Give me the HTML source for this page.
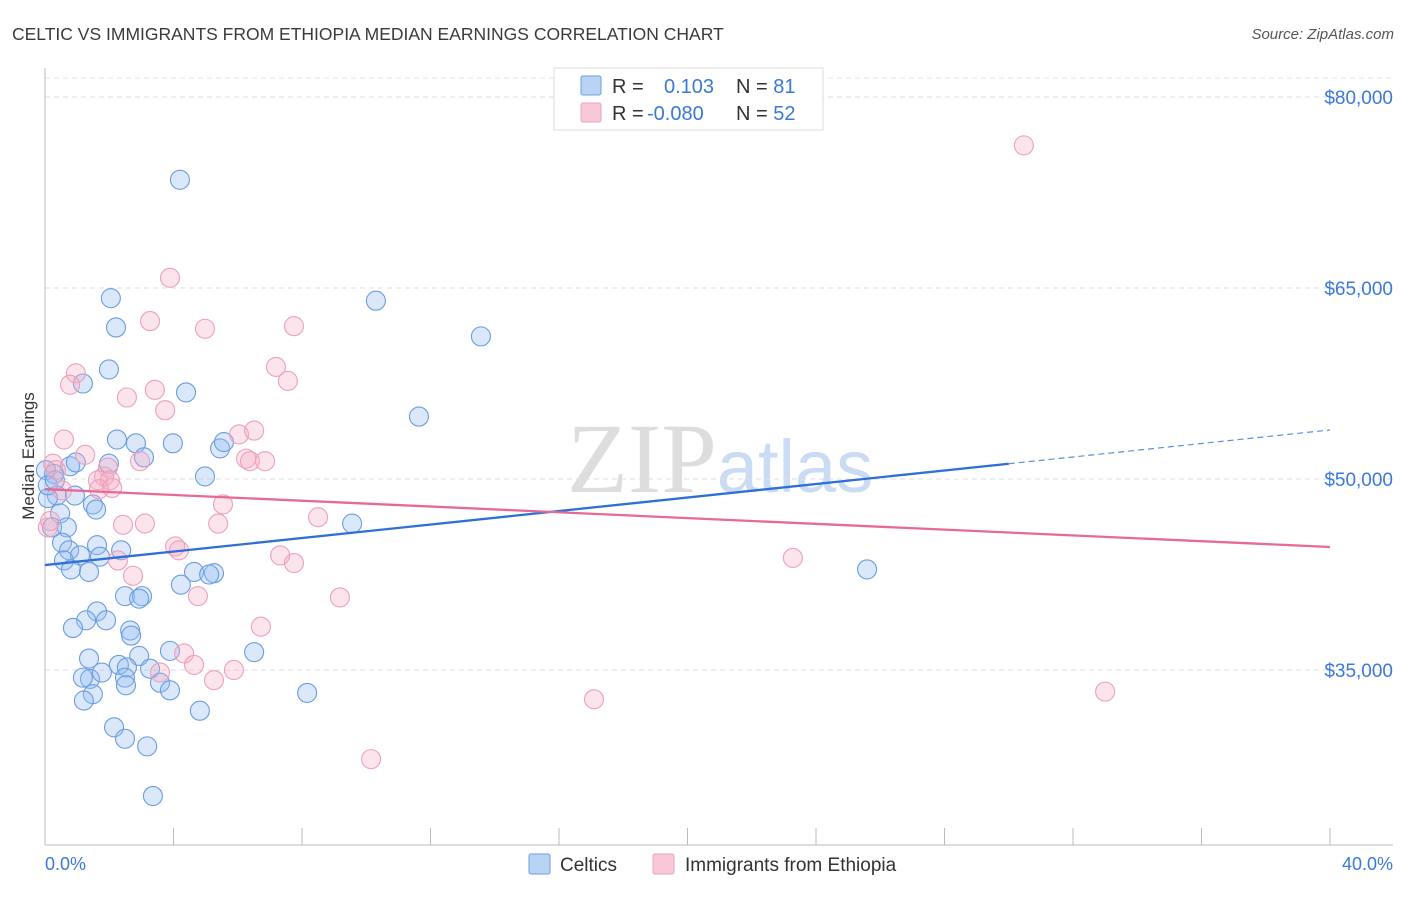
<!DOCTYPE html>
<html><head><meta charset="utf-8"><style>
body{margin:0;background:#fff;font-family:"Liberation Sans",sans-serif;}
</style></head><body>
<svg id="c" width="1406" height="892" xmlns="http://www.w3.org/2000/svg" style="font-family:'Liberation Sans',sans-serif">
<text x="12" y="40" font-size="17.5" fill="#3a3a3a">CELTIC VS IMMIGRANTS FROM ETHIOPIA MEDIAN EARNINGS CORRELATION CHART</text>
<text x="1394" y="39" font-size="15" fill="#555" font-style="italic" text-anchor="end">Source: ZipAtlas.com</text>
<text x="720" y="492" font-size="100" fill="#ddd" text-anchor="middle" font-family="Liberation Serif,serif">ZIP<tspan fill="#c9dcf3" font-family="Liberation Sans,sans-serif" font-size="74">atlas</tspan></text>
<g id="grid"></g>
<g id="marks"></g>
<text transform="translate(34,456) rotate(-90)" font-size="17" fill="#333" text-anchor="middle">Median Earnings</text>
<text x="45" y="870" font-size="18" fill="#3b78d8">0.0%</text>
<text x="1393" y="870" font-size="18" fill="#3b78d8" text-anchor="end">40.0%</text>
<g>
<rect x="554" y="68" width="269" height="62" fill="#fff" stroke="#ddd"/>
<rect x="581" y="76" width="20" height="19" fill="#b9d3f5" stroke="#6d9ee0" rx="2"/>
<rect x="581" y="103" width="20" height="19" fill="#f9c8d8" stroke="#eba3bb" rx="2"/>
<text x="612" y="93" font-size="20" fill="#333">R = <tspan fill="#3b78d8" x="664">0.103</tspan><tspan x="736" fill="#333">N = </tspan><tspan fill="#3b78d8">81</tspan></text>
<text x="612" y="120" font-size="20" fill="#333">R = <tspan fill="#3b78d8" x="647">-0.080</tspan><tspan x="736" fill="#333">N = </tspan><tspan fill="#3b78d8">52</tspan></text>
</g>
<g>
<rect x="529" y="854" width="21" height="20" fill="#b9d3f5" stroke="#6d9ee0" rx="2"/>
<text x="560" y="871" font-size="19" fill="#333">Celtics</text>
<rect x="653" y="854" width="21" height="20" fill="#f9c8d8" stroke="#eba3bb" rx="2"/>
<text x="685" y="871" font-size="19" fill="#333">Immigrants from Ethiopia</text>
</g>
</svg>
<script>
const yTicks=[35000,50000,65000,80000];
const yTickLabels=["$35,000","$50,000","$65,000","$80,000"];
const xTicks=[0,4,8,12,16,20,24,28,32,36,40];
const celticsX=[4.20,2.05,10.30,2.21,13.57,1.99,1.18,4.39,11.64,2.24,2.83,3.98,3.08,5.45,5.57,0.78,1.99,4.98,0.96,0.28,0.37,0.93,0.09,1.49,1.59,0.47,0.22,0.68,9.56,0.53,1.62,0.75,1.09,1.71,0.59,2.37,0.81,1.37,4.64,5.26,4.23,5.11,2.49,3.02,2.93,1.62,1.28,1.90,0.87,2.65,2.68,25.59,6.51,3.89,2.93,1.37,1.40,1.18,1.77,2.30,2.55,2.49,2.52,3.27,3.58,3.89,1.49,1.21,4.82,8.16,2.15,2.49,3.18,3.36,0.03,0.09,0.31];
const celticsY=[73.5,64.2,64.0,61.9,61.2,58.6,57.5,56.8,54.9,53.1,52.8,52.8,51.7,52.4,52.9,51.0,51.2,50.2,51.3,50.4,48.7,48.7,48.5,48.0,47.6,47.3,46.2,46.2,46.5,45.0,44.8,44.4,44.0,43.9,43.6,44.4,42.9,42.7,42.7,42.6,41.7,42.5,40.8,40.8,40.6,39.6,38.9,38.9,38.3,38.1,37.7,42.9,36.4,36.5,36.1,35.9,34.3,34.4,34.8,35.4,35.2,34.4,33.8,35.1,34.0,33.4,33.1,32.6,31.8,33.2,30.5,29.6,29.0,25.1,50.7,49.5,49.9];
const ethX=[30.47,3.89,3.27,4.98,7.75,7.19,7.56,0.96,0.78,3.42,2.55,3.74,0.59,6.04,6.51,6.26,6.38,6.85,1.25,0.25,2.96,1.96,1.84,1.65,2.02,1.68,2.09,5.54,0.09,0.16,2.43,3.11,5.39,8.50,4.05,4.17,2.27,7.32,7.75,2.74,4.76,9.18,6.72,23.28,4.33,4.64,3.58,5.88,5.26,17.09,33.00,10.15,0.34,0.53];
const ethY=[76.2,65.8,62.4,61.8,62.0,58.8,57.7,58.3,57.4,57.0,56.4,55.4,53.1,53.5,53.8,51.6,51.4,51.4,51.9,51.2,51.4,50.9,50.2,49.9,49.9,49.2,49.3,48.0,46.2,46.7,46.4,46.5,46.5,47.0,44.7,44.4,43.6,44.0,43.4,42.4,40.8,40.7,38.4,43.8,36.3,35.4,34.8,35.0,34.2,32.7,33.3,28.0,50.7,49.1];
const celticsTrend=[43.24,53.85];
const ethTrend=[49.2,44.66];
const celticsSolidEnd=30;

const NS="http://www.w3.org/2000/svg";
const X=v=>45+v/40*1285;
const Y=k=>97+(80-k)*12.733;
function mk(t,a,p){const e=document.createElementNS(NS,t);for(const k in a)e.setAttribute(k,a[k]);p.appendChild(e);return e;}
const grid=document.getElementById('grid'),marks=document.getElementById('marks');
let gl=mk('line',{x1:45,x2:1393,y1:78,y2:78,stroke:'#e3e3e3','stroke-dasharray':'5,4'},grid);

yTicks.forEach((t,i)=>{
 const y=Y(t/1000);
 const l=mk('line',{x1:45,x2:1393,y1:y,y2:y,stroke:'#dedede','stroke-dasharray':'5,4'},grid);
 
 
 const tx=mk('text',{x:1393,y:y+7,'font-size':19,fill:'#3b78d8','text-anchor':'end'},grid);
 tx.textContent=yTickLabels[i];
 
 
});
const ax=mk('line',{x1:45,x2:45,y1:68,y2:845,stroke:'#bbb'},grid);

const bx=mk('line',{x1:45,x2:1393,y1:845,y2:845,stroke:'#bbb'},grid);

xTicks.forEach(t=>{
 const tk=mk('line',{x1:X(t),x2:X(t),y1:828,y2:845,stroke:'#bbb'},grid);
 
 
});
function pts(xs,ys,fill,stroke,name){
 xs.forEach((v,i)=>{
  const c=mk('circle',{cx:X(v),cy:Y(ys[i]),r:9.5,fill:fill,stroke:stroke,'stroke-width':1.1},marks);
  
  
 });
}
pts(celticsX,celticsY,'rgba(150,190,240,0.35)','#6a9ce0','celtics-point');
pts(ethX,ethY,'rgba(245,170,195,0.32)','#eba0bb','ethiopia-point');
const ty=(tr,x)=>tr[0]+(tr[1]-tr[0])*x/40;
let l1=mk('line',{x1:X(0),y1:Y(ty(celticsTrend,0)),x2:X(celticsSolidEnd),y2:Y(ty(celticsTrend,celticsSolidEnd)),stroke:'#2f6fd6','stroke-width':2.3},marks);

let l2=mk('line',{x1:X(celticsSolidEnd),y1:Y(ty(celticsTrend,celticsSolidEnd)),x2:X(40),y2:Y(ty(celticsTrend,40)),stroke:'#5a90dc','stroke-width':1.2,'stroke-dasharray':'6,4'},marks);

let l3=mk('line',{x1:X(0),y1:Y(ty(ethTrend,0)),x2:X(40),y2:Y(ty(ethTrend,40)),stroke:'#e76996','stroke-width':2.3},marks);

</script>
</body></html>
